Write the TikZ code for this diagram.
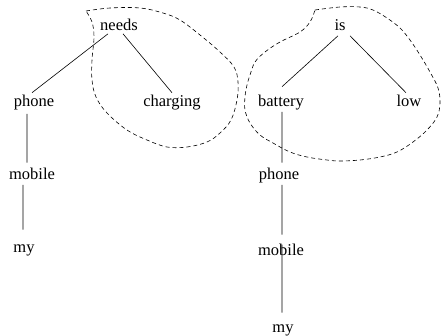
\documentclass[tikz,border=0pt]{standalone}
\usepackage{fontspec}
\setmainfont{Liberation Serif}
\tikzset{
  word/.style={anchor=base, inner sep=2pt, text height=11pt, text depth=3.5pt,
    font=\fontsize{16.5}{19}\selectfont},
  blob/.style={dash pattern=on 4pt off 3pt}
}

\begin{document}
\begin{tikzpicture}[x=1pt,y=-1pt,line width=0.6pt]
\useasboundingbox (0,0) rectangle (442,335);

% my mobile phone needs charging
\node[word] (needs) at (119,30) {needs};
\node[word] (phoneA) at (34,106) {phone};
\node[word] (charging) at (172,106) {charging};
\node[word] (mobileA) at (32,179) {mobile};
\node[word] (myA) at (24,252) {my};

% my mobile phone battery is low
\node[word] (is) at (340,30) {is};
\node[word] (battery) at (281,106) {battery};
\node[word] (low) at (409,106) {low};
\node[word] (phoneB) at (279,179) {phone};
\node[word] (mobileB) at (281,255) {mobile};
\node[word] (myB) at (283,332) {my};

\draw
([xshift=-11pt,yshift=2pt]needs.south) -- ([xshift=-2pt]phoneA.north)
([xshift=4pt,yshift=2pt]needs.south) -- (charging.north)
([xshift=-7pt,yshift=-2pt]phoneA.south) -- ([xshift=-5pt,yshift=3pt]mobileA.north)
([xshift=-9pt]mobileA.south) -- ([xshift=-1pt,yshift=9pt]myA.north);

\draw
([xshift=-2pt]is.south) -- ([xshift=1pt,yshift=6pt]battery.north)
([xshift=10pt]is.south) -- ([xshift=-3pt]low.north)
([xshift=1pt]battery.south) -- ([xshift=3pt,yshift=3pt]phoneB.north)
([xshift=3pt]phoneB.south) -- ([xshift=1pt,yshift=7pt]mobileB.north)
([xshift=1pt,yshift=-3pt]mobileB.north) -- ([xshift=-1pt,yshift=6pt]myB.north);

% dashed groups round the two heads
\draw[blob] plot[smooth, tension=0.6] coordinates {
  (86,11) (110,8) (140,8) (163,13) (180,20) (200,35) (220,52) (234,67)
  (238,82) (237,100) (231,120) (220,133) (207,142) (187,147) (167,147)
  (147,140) (127,130) (107,113) (96,97) (92,80) (92,60) (94,37) (92,22) (86,11)};
\draw[blob] plot[smooth, tension=0.6] coordinates {
  (315,10) (340,7) (360,7) (373,10) (387,18) (400,28) (410,40) (420,55)
  (430,72) (438,88) (440,103) (437,117) (427,130) (413,142) (397,152)
  (380,157) (360,160) (340,161) (327,160) (307,157) (290,152) (273,143)
  (260,135) (250,123) (245,110) (245,97) (247,85) (250,75) (255,62)
  (265,52) (280,42) (300,32) (310,22) (315,10)};
\end{tikzpicture}
\end{document}
